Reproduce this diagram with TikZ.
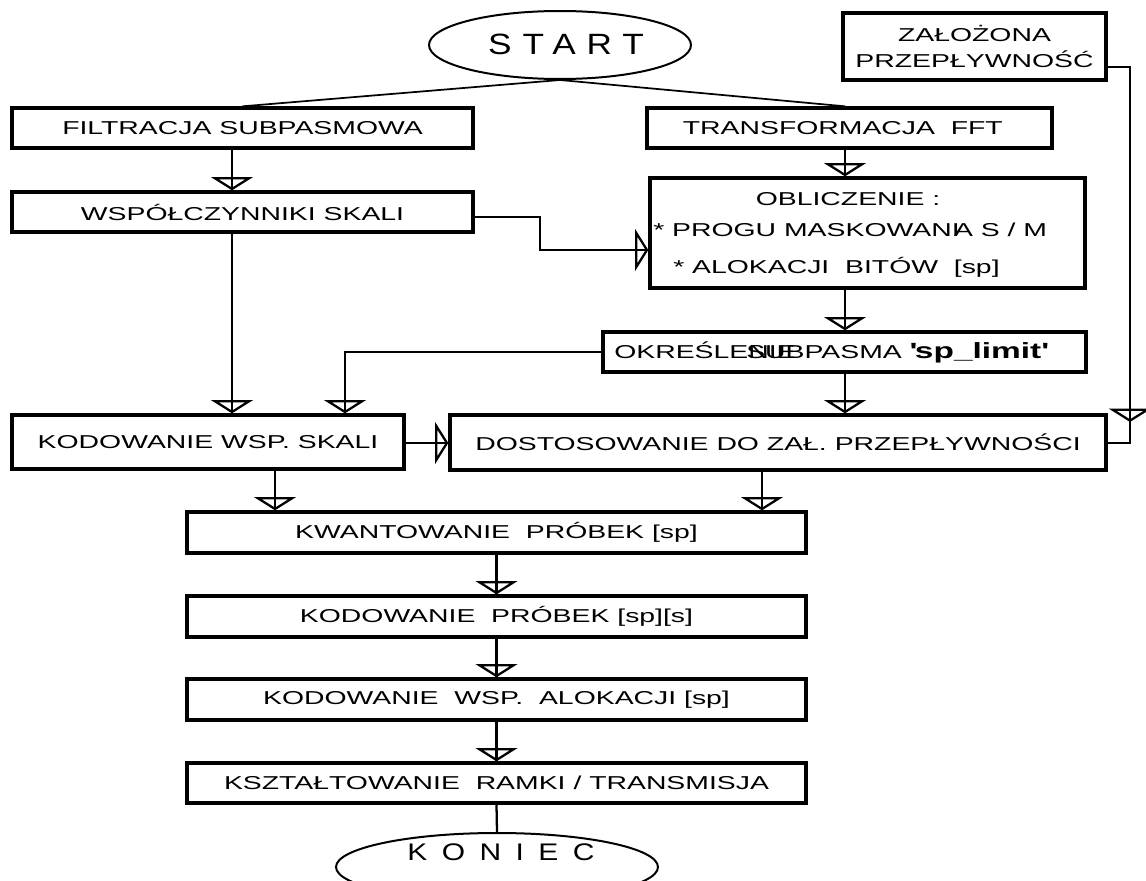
\documentclass[tikz,border=0pt]{standalone}
\usepackage{fontspec}
\setmainfont{Liberation Sans}[FakeStretch=1.52]
\newfontfamily\startfont{Liberation Sans}[FakeStretch=1.2,LetterSpace=37]
\newfontfamily\konfont{Liberation Sans}[FakeStretch=1.25,LetterSpace=60]
\usetikzlibrary{arrows.meta,shapes.geometric}
\begin{document}
\begin{tikzpicture}[x=0.75pt,y=-0.75pt,
  sz/.style 2 args={minimum width=#1*0.75pt, minimum height=#2*0.75pt},
  box/.style={draw, line width=2.5pt, inner sep=0pt, align=center,
    font=\fontsize{14pt}{19.5pt}\selectfont},
  txt/.style={inner sep=0pt, font=\fontsize{14pt}{16pt}\selectfont},
  conn/.style={line width=1.7pt},
  flow/.style={conn, postaction={draw, line width=1.7pt,
    -{Triangle[open, width=31.5pt, length=10pt]}}},
  term/.style={draw, ellipse, line width=1.5pt, inner sep=0pt}]
\useasboundingbox (0,0) rectangle (1146,881);
\clip (0,0) rectangle (1146,881);

% terminals
\node[term, sz={262}{68}] (start) at (560,45) {};
\node[inner sep=0pt, font=\fontsize{22pt}{22pt}\startfont] (starttxt) at (566,44) {START};
\node[term, sz={322}{68}] (kon) at (497,867) {};
\node[inner sep=0pt, font=\fontsize{18pt}{18pt}\konfont] (kontxt) at (501,852) {KONIEC};

% boxes
\node[box, sz={263}{67}] (zal) at (974.5,46.5) {ZAŁOŻONA\\PRZEPŁYWNOŚĆ};
\node[box, sz={461}{40}] (filt) at (242.5,128) {FILTRACJA SUBPASMOWA};
\node[box, sz={405}{40}] (trans) at (849.5,128) {TRANSFORMACJA\ \ FFT\hspace*{10pt}};
\node[box, sz={461}{40}] (wsp) at (242.5,212) {WSPÓŁCZYNNIKI SKALI};
\node[box, sz={435}{110}] (obl) at (867.5,233) {};
\node[txt, anchor=base] (obl1) at (848,205) {OBLICZENIE :};
\node[txt, anchor=base west] (obl2) at (653,236) {* PROGU MASKOWANI\kern-0.3em A S / M};
\node[txt, anchor=base west] (obl3) at (673,273) {* ALOKACJI\ \ BITÓW\ \ [sp]};
\node[box, sz={483}{40}] (okr) at (844.5,352) {};
\node[txt, anchor=base west] (okr1) at (614,358) {OKREŚLENIE};
\node[txt, anchor=base west] (okr2) at (746,358) {SUBPASMA {\fontsize{16.5pt}{17pt}\selectfont\bfseries\textquotesingle sp\_limit\textquotesingle}};
\node[box, sz={392}{54}] (kws) at (208,442) {KODOWANIE WSP. SKALI};
\node[box, sz={656}{55}] (dost) at (778,442.5) {DOSTOSOWANIE DO ZAŁ. PRZEPŁYWNOŚCI};
\node[box, sz={619}{41}] (kwant) at (496.5,532.5) {KWANTOWANIE\ \ PRÓBEK [sp]};
\node[box, sz={619}{41}] (kodp) at (496.5,616.5) {KODOWANIE\ \ PRÓBEK [sp][s]};
\node[box, sz={619}{41}] (koda) at (496.5,699.5) {KODOWANIE\ \ WSP.\ \ ALOKACJI [sp]};
\node[box, sz={619}{40}] (kszt) at (496.5,783) {KSZTAŁTOWANIE\ \ RAMKI / TRANSMISJA};

% helper coordinates
\coordinate (cL) at (232,0);
\coordinate (cR) at (845,0);
\coordinate (cK1) at (275,0);
\coordinate (cK2) at (762,0);
\coordinate (w1) at (540,217);
\coordinate (w2) at (540,250);
\coordinate (z1) at (1130,67);
\coordinate (z2) at (1130,443);
\coordinate (zt) at (1130,422);
\coordinate (o1) at (345,352);
\coordinate (k1) at (0,443);

% connectors
\draw[conn, line width=1.3pt] (start.south) -- (filt.north);
\draw[conn, line width=1.3pt] (start.south) -- (trans.north -| cR);
\draw[flow] (filt.south -| cL) -- (wsp.north -| cL);
\draw[flow] (trans.south -| cR) -- (obl.north -| cR);
\draw[flow] (wsp.east |- w1) -- (w1) -- (w2) -- (obl.west |- w2);
\draw[flow] (obl.south -| cR) -- (okr.north -| cR);
\draw[flow] (wsp.south -| cL) -- (kws.north -| cL);
\draw[flow] (okr.west) -- (o1) -- (kws.north -| o1);
\draw[flow] (okr.south -| cR) -- (dost.north -| cR);
\draw[flow] (kws.east |- k1) -- (dost.west |- k1);
\draw[conn] (zal.east |- z1) -- (z1) -- (z2) -- (dost.east |- z2);
\draw[flow] (z1) -- (zt);
\draw[flow] (kws.south -| cK1) -- (kwant.north -| cK1);
\draw[flow] (dost.south -| cK2) -- (kwant.north -| cK2);
\draw[flow] (kwant.south) -- (kodp.north);
\draw[flow] (kodp.south) -- (koda.north);
\draw[flow] (koda.south) -- (kszt.north);
\draw[conn] (kszt.south) -- (kon.north);
\end{tikzpicture}
\end{document}
